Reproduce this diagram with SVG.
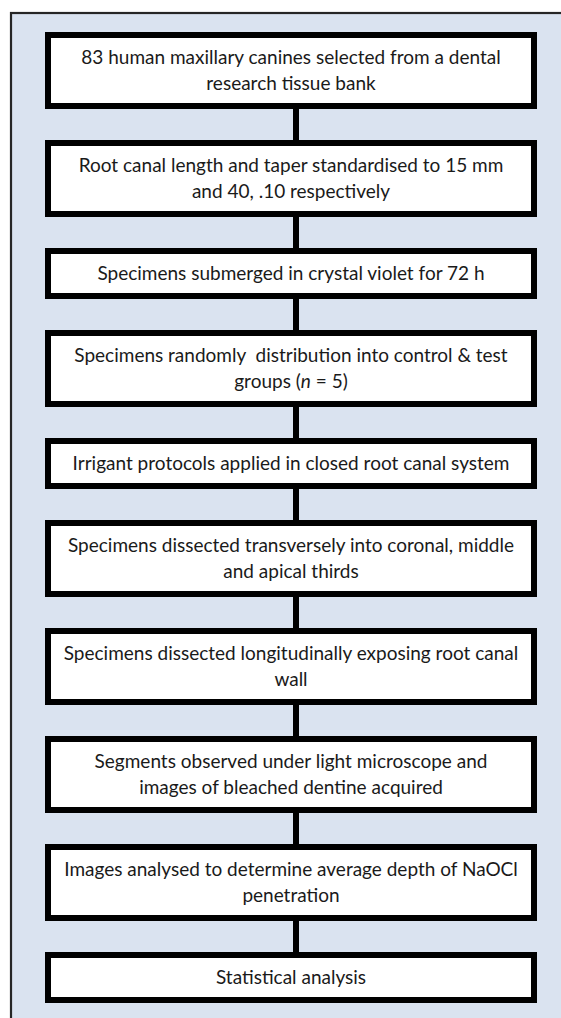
<svg xmlns="http://www.w3.org/2000/svg" width="561" height="1018" viewBox="0 0 561 1018">
<style>
.bg{fill:#dae3f0;stroke:#262626;stroke-width:2.2}
.box{fill:#ffffff;stroke:#000000;stroke-width:6}
.t{font-family:Lato,"Liberation Sans",sans-serif;font-size:19px;fill:#1a1a1a;text-anchor:middle}
.c{stroke:#000000;stroke-width:6;fill:none}
</style>
<rect class="bg" x="11" y="13" width="620" height="1100"/>
<g id="connectors">
<line class="c" x1="296" y1="107" x2="296" y2="143"/>
<line class="c" x1="296" y1="215" x2="296" y2="251"/>
<line class="c" x1="296" y1="297" x2="296" y2="333"/>
<line class="c" x1="296" y1="405" x2="296" y2="441"/>
<line class="c" x1="296" y1="487" x2="296" y2="523"/>
<line class="c" x1="296" y1="595" x2="296" y2="631"/>
<line class="c" x1="296" y1="703" x2="296" y2="739"/>
<line class="c" x1="296" y1="811" x2="296" y2="847"/>
<line class="c" x1="296" y1="919" x2="296" y2="955"/>
</g>
<g id="n1"><rect class="box" x="48" y="35" width="486" height="71"/>
<text class="t" x="291" y="64">83 human maxillary canines selected from a dental</text>
<text class="t" x="291" y="90">research tissue bank</text></g>
<g id="n2"><rect class="box" x="48" y="143" width="486" height="71"/>
<text class="t" x="291" y="172">Root canal length and taper standardised to 15 mm</text>
<text class="t" x="291" y="198">and 40, .10 respectively</text></g>
<g id="n3"><rect class="box" x="48" y="251" width="486" height="45"/>
<text class="t" x="291" y="280">Specimens submerged in crystal violet for 72 h</text></g>
<g id="n4"><rect class="box" x="48" y="333" width="486" height="71"/>
<text class="t" x="291" y="362" style="white-space:pre">Specimens randomly  distribution into control &amp; test</text>
<text class="t" x="291" y="388">groups (<tspan font-style="italic">n</tspan> = 5)</text></g>
<g id="n5"><rect class="box" x="48" y="441" width="486" height="45"/>
<text class="t" x="291" y="470">Irrigant protocols applied in closed root canal system</text></g>
<g id="n6"><rect class="box" x="48" y="523" width="486" height="71"/>
<text class="t" x="291" y="552">Specimens dissected transversely into coronal, middle</text>
<text class="t" x="291" y="578">and apical thirds</text></g>
<g id="n7"><rect class="box" x="48" y="631" width="486" height="71"/>
<text class="t" x="291" y="660">Specimens dissected longitudinally exposing root canal</text>
<text class="t" x="291" y="686">wall</text></g>
<g id="n8"><rect class="box" x="48" y="739" width="486" height="71"/>
<text class="t" x="291" y="768">Segments observed under light microscope and</text>
<text class="t" x="291" y="794">images of bleached dentine acquired</text></g>
<g id="n9"><rect class="box" x="48" y="847" width="486" height="71"/>
<text class="t" x="291" y="876">Images analysed to determine average depth of NaOCl</text>
<text class="t" x="291" y="902">penetration</text></g>
<g id="n10"><rect class="box" x="48" y="955" width="486" height="45"/>
<text class="t" x="291" y="984">Statistical analysis</text></g>
</svg>
